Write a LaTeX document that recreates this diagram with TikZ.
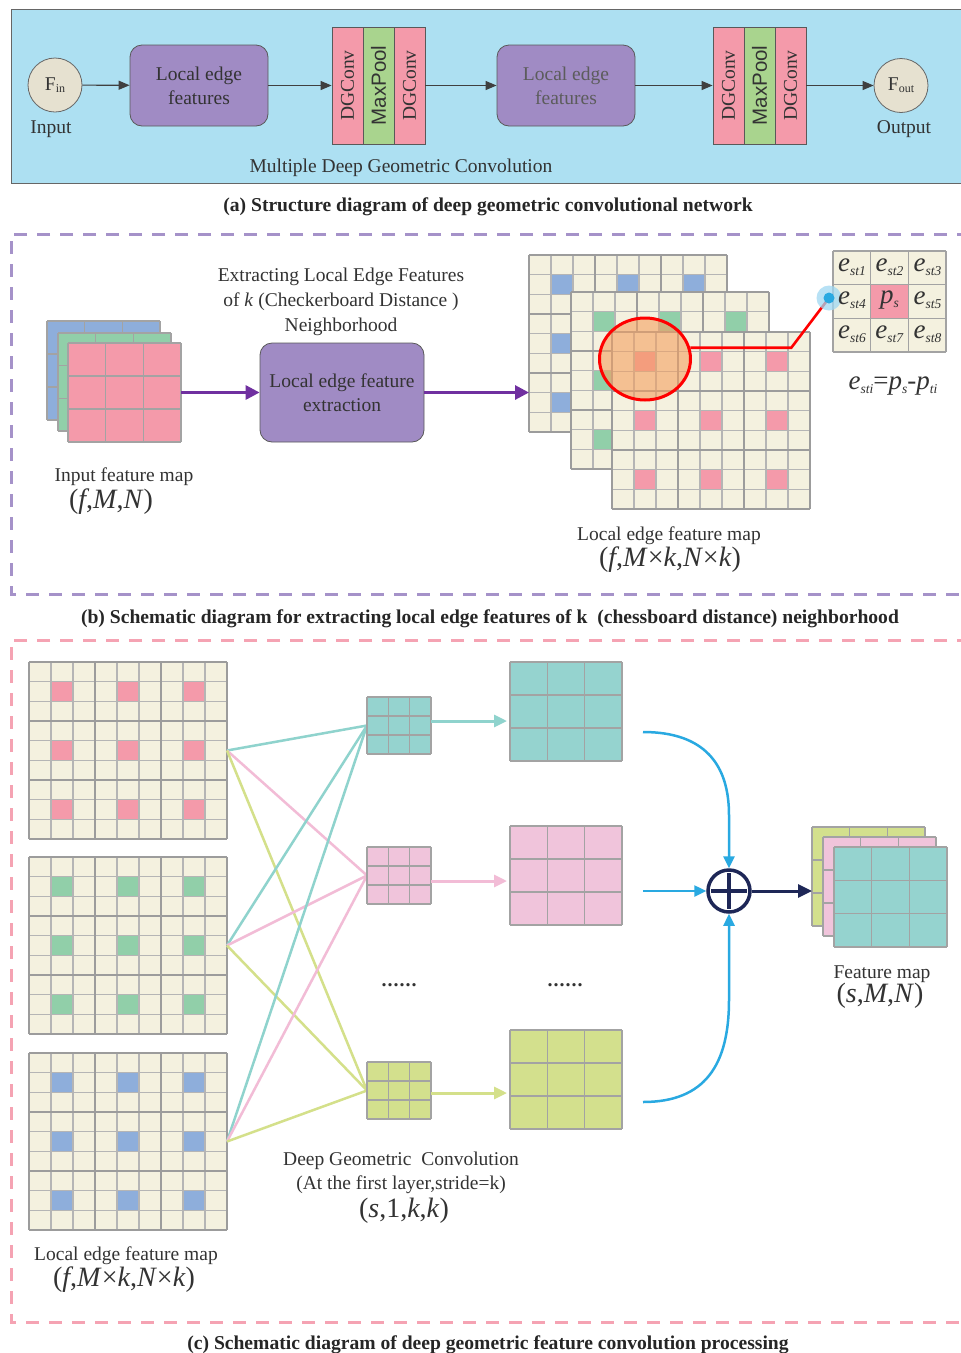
\documentclass[tikz,border=0pt]{standalone}
\usepackage{fontspec}
\setmainfont{Liberation Serif}
\newfontfamily\sansf{Liberation Sans}
\usetikzlibrary{arrows.meta,calc,shapes.geometric}
\definecolor{skyb}{HTML}{ADE0F2}
\definecolor{boxpur}{HTML}{A08BC4}
\definecolor{beigec}{HTML}{E6E1D0}
\definecolor{pinkc}{HTML}{F49AAA}
\definecolor{mpgreen}{HTML}{A9D48E}
\definecolor{cellbg}{HTML}{F4F1DF}
\definecolor{bluec}{HTML}{8EAEDB}
\definecolor{greenc}{HTML}{91CFA9}
\definecolor{tealc}{HTML}{95D3CF}
\definecolor{lpinkc}{HTML}{F0C4DB}
\definecolor{ygreen}{HTML}{D3E08D}
\definecolor{cblue}{HTML}{29A9E1}
\definecolor{navy}{HTML}{1E2757}
\definecolor{parrow}{HTML}{7030A0}
\definecolor{dpur}{HTML}{A592C9}
\definecolor{dpink}{HTML}{F5A3B3}
\definecolor{tgray}{HTML}{333333}
\definecolor{gridgray}{HTML}{A3A3A3}
\definecolor{thickgray}{HTML}{9C9C9C}
\definecolor{peach}{HTML}{F4A060}
\definecolor{ltline}{HTML}{8FD3CD}
\definecolor{lpline}{HTML}{F2BCD6}
\definecolor{lgline}{HTML}{D4E08A}
\newcommand{\sbx}[1]{\raisebox{-4pt}{\fontsize{13.5}{14}\selectfont\textit{#1}}}
\newcommand{\ee}[1]{\textit{e}\sbx{#1}}
\tikzset{
  txt/.style={font=\fontsize{19.5}{24}\selectfont, text=tgray, inner sep=0, yshift=-2pt},
  captxt/.style={font=\bfseries\fontsize{19.6}{23}\selectfont, text=black!85, inner sep=0, yshift=-1.5pt},
  bigit/.style={font=\fontsize{28}{32}\selectfont, text=tgray, inner sep=0},
  gridln/.style={draw=gridgray, line width=1.1pt},
  thinln/.style={draw=gridgray!80, line width=1.3pt},
  thickln/.style={draw=thickgray, line width=2.8pt},
  lefbox/.style={rounded corners=12pt, fill=boxpur, draw=gray!70!black, line width=0.8pt, align=center, txt, yshift=2pt},
  stackcol/.style={rotate=90, minimum width=117pt, minimum height=31pt, inner sep=0, draw=gray!70!black, line width=0.8pt, txt, yshift=2pt},
  endcirc/.style={circle, fill=beigec, draw=gray!80!black, line width=0.8pt, minimum size=54pt, inner sep=0, txt, yshift=2pt},
  aarrow/.style={draw=black!75, line width=1.2pt, -{Triangle[length=11pt,width=9pt]}},
  parr/.style={draw=parrow, line width=3pt, -{Triangle[length=14pt,width=14pt]}},
  karr/.style={line width=3pt, -{Triangle[length=13pt,width=12pt]}, shorten >=3pt},
  barr/.style={draw=cblue, line width=2.5pt, -{Triangle[length=12pt,width=11pt]}},
  cline/.style={line width=2.5pt},
  ecell/.style={font=\fontsize{27}{30}\selectfont, text=tgray, inner sep=0},
}
\newcommand{\gridnode}[8]{%
  \node[anchor=north west, inner sep=0, outer sep=0, minimum width=#4pt, minimum height=#5pt, fill=#8] (#1) at (#2,#3) {};
  \foreach \k in {0,...,#6}{\draw[gridln] (#2+\k*#4/#6,#3) -- ++(0,#5);}
  \foreach \k in {0,...,#7}{\draw[gridln] (#2,#3+\k*#5/#7) -- ++(#4,0);}
}
\newcommand{\edgemap}[4]{%
  \node[anchor=north west, inner sep=0, outer sep=0, minimum width=198pt, minimum height=177pt, fill=cellbg] (#1) at (#2,#3) {};
  \foreach \i in {1,4,7}{\foreach \j in {1,4,7}{\fill[#4] (#2+\i*22,#3+\j*19.667) rectangle ++(22,19.667);}}
  \foreach \k in {1,2,4,5,7,8}{\draw[thinln] (#2+\k*22,#3) -- ++(0,177); \draw[thinln] (#2,#3+\k*19.667) -- ++(198,0);}
  \foreach \k in {0,3,6,9}{\draw[thickln] (#2+\k*22,#3) -- ++(0,177); \draw[thickln] (#2,#3+\k*19.667) -- ++(198,0);}
}
\begin{document}
\begin{tikzpicture}[x=1pt,y=-1pt]
\useasboundingbox (0,0) rectangle (961,1353);
\fill[white] (0,0) rectangle (961,1353);
% ---------------- (a)
\filldraw[fill=skyb, draw=gray!80!black, line width=1pt] (11,9) rectangle (970,183);
\node[endcirc] (fin) at (55,85) {F\raisebox{-2pt}{\fontsize{12}{12}\selectfont in}};
\node[txt] (inlab) at (51,127) {Input};
\node[lefbox, minimum width=138pt, minimum height=81pt] (leb1) at (199,85.5) {Local edge\\features};
\node[stackcol, fill=pinkc] (dg1a) at (347.5,85.5) {DGConv};
\node[stackcol, fill=mpgreen, font=\sansf\fontsize{20.5}{24}\selectfont] (dg1b) at (378.5,85.5) {MaxPool};
\node[stackcol, fill=pinkc] (dg1c) at (409.5,85.5) {DGConv};
\node[lefbox, minimum width=138pt, minimum height=81pt, text=tgray!80] (leb2) at (566,85.5) {Local edge\\features};
\node[stackcol, fill=pinkc] (dg2a) at (728.5,85.5) {DGConv};
\node[stackcol, fill=mpgreen, font=\sansf\fontsize{20.5}{24}\selectfont] (dg2b) at (759.5,85.5) {MaxPool};
\node[stackcol, fill=pinkc] (dg2c) at (790.5,85.5) {DGConv};
\node[endcirc] (fout) at (901,85.5) {F\raisebox{-2pt}{\fontsize{12}{12}\selectfont out}};
\node[txt] (outlab) at (904,127) {Output};
\draw[aarrow] (fin) -- (leb1);
\draw[aarrow] (leb1) -- (dg1a);
\draw[aarrow] (dg1c) -- (leb2);
\draw[aarrow] (leb2) -- (dg2a);
\draw[aarrow] (dg2c) -- (fout);
\node[txt] (mdgc) at (401,166) {Multiple Deep Geometric Convolution};
\node[captxt] (capa) at (488,205) {(a) Structure diagram of deep geometric convolutional network};
% ---------------- (b)
\draw[dpur, line width=3pt, dash pattern=on 13pt off 10pt] (970,234) -- (11,234) -- (11,594) -- (970,594);
\gridnode{inb}{47}{321}{113}{99}{3}{3}{bluec}
\gridnode{ing}{58}{333}{113}{98}{3}{3}{greenc}
\gridnode{inp}{68}{343}{113}{99}{3}{3}{pinkc}
\node[txt, align=center, font=\fontsize{19.5}{25}\selectfont] (extxt) at (341,300) {Extracting Local Edge Features\\of \textit{k} (Checkerboard Distance )\\Neighborhood};
\node[lefbox, minimum width=164pt, minimum height=99pt] (lex) at (342,392.5) {Local edge feature\\extraction};
\node[txt] (inl) at (124,475) {Input feature map};
\node[bigit] (infmn) at (111,502) {(\textit{f},\textit{M},\textit{N})};
\edgemap{em1}{529}{255}{bluec}
\edgemap{em2}{571}{292}{greenc}
\edgemap{em3}{612}{332}{pinkc}
\draw[parr] (inp.east) -- (lex.west);
\draw[parr] (lex.east) -- (lex.east -| em1.west);
\node[ellipse, draw=red, line width=3pt, fill=peach, fill opacity=0.6, minimum width=91pt, minimum height=82pt, inner sep=0] (rc) at (645,359) {};
\coordinate (bd) at (829,298);
\draw[red, line width=2.6pt] (rc.14) -- ++(101,0) -- (bd);
\gridnode{eg}{833}{251}{113}{101}{3}{3}{cellbg}
\filldraw[fill=pinkc, draw=gridgray, line width=1.1pt] (870.67,284.67) rectangle ++(37.67,33.67);
\node[circle, fill=cblue!45, fill opacity=0.75, minimum size=25pt, inner sep=0] (bdg) at (bd) {};
\node[circle, fill=cblue, minimum size=11pt, inner sep=0] (bdc) at (bd) {};
\node[ecell] (e1) at (852,267) {\ee{st1}};
\node[ecell] (e2) at (889.5,267) {\ee{st2}};
\node[ecell] (e3) at (927.5,267) {\ee{st3}};
\node[ecell] (e4) at (852,300.5) {\ee{st4}};
\node[ecell] (ps) at (889.5,300.5) {\textit{p}\sbx{s}};
\node[ecell] (e5) at (927.5,300.5) {\ee{st5}};
\node[ecell] (e6) at (852,334) {\ee{st6}};
\node[ecell] (e7) at (889.5,334) {\ee{st7}};
\node[ecell] (e8) at (927.5,334) {\ee{st8}};
\node[ecell] (eq) at (893,386) {\ee{sti}=\textit{p}\sbx{s}-\textit{p}\sbx{ti}};
\node[txt] (lefm) at (669,534) {Local edge feature map};
\node[bigit] (lefmd) at (670,560) {(\textit{f},\textit{M}×\textit{k},\textit{N}×\textit{k})};
\node[captxt] (capb) at (490,617) {(b) Schematic diagram for extracting local edge features of k~ (chessboard distance) neighborhood};
% ---------------- (c)
\draw[dpink, line width=3pt, dash pattern=on 13pt off 10pt] (970,640) -- (11,640) -- (11,1322) -- (970,1322);
\edgemap{lm1}{29}{662}{pinkc}
\edgemap{lm2}{29}{857}{greenc}
\edgemap{lm3}{29}{1053}{bluec}
\foreach \o in {lm1,lm2,lm3}{
  \draw[cline, ltline] (\o.east) -- (367,725.5);
  \draw[cline, lpline] (\o.east) -- (367,875.5);
  \draw[cline, lgline] (\o.east) -- (367,1090.5);
}
\gridnode{kt}{367}{697}{64}{57}{3}{3}{tealc}
\gridnode{kp}{367}{847}{64}{57}{3}{3}{lpinkc}
\gridnode{kg}{367}{1062}{64}{57}{3}{3}{ygreen}
\gridnode{bt}{510}{662}{112}{99}{3}{3}{tealc}
\gridnode{bp}{510}{826}{112}{99}{3}{3}{lpinkc}
\gridnode{bg}{510}{1030}{112}{99}{3}{3}{ygreen}
\draw[karr, ltline] (431,721) -- (bt.west |- 0,721);
\draw[karr, lpline] (431,881) -- (bp.west |- 0,881);
\draw[karr, lgline] (431,1093) -- (bg.west |- 0,1093);
\node[txt, font=\bfseries\fontsize{20}{24}\selectfont] (dots1) at (399,983) {.\hspace{1pt}.\hspace{1pt}.\hspace{1pt}.\hspace{1pt}.\hspace{1pt}.};
\node[txt, font=\bfseries\fontsize{20}{24}\selectfont] (dots2) at (565,983) {.\hspace{1pt}.\hspace{1pt}.\hspace{1pt}.\hspace{1pt}.\hspace{1pt}.};
\node[circle, draw=navy, line width=3.5pt, minimum size=42pt, inner sep=0, fill=white] (plus) at (729,891) {};
\draw[navy, line width=3.5pt] ($(plus.center)+(-18,0)$) -- ($(plus.center)+(18,0)$);
\draw[navy, line width=3.5pt] ($(plus.center)+(0,-18)$) -- ($(plus.center)+(0,18)$);
\coordinate (c1) at (643,732);
\coordinate (c2) at (643,891);
\coordinate (c3) at (643,1102);
\draw[barr] (c1) .. controls (705,732) and (729,765) .. (729,815) -- (plus.north);
\draw[barr] (c2) -- (plus.west);
\draw[barr] (c3) .. controls (705,1102) and (729,1065) .. (729,1000) -- (plus.south);
\gridnode{fmg}{812}{827}{113}{99}{3}{3}{ygreen}
\gridnode{fmp}{823}{837}{113}{99}{3}{3}{lpinkc}
\gridnode{fmt}{834}{847}{113}{100}{3}{3}{tealc}
\draw[navy, line width=3pt, -{Triangle[length=14pt,width=13pt]}] (plus.east) -- (fmg.west |- plus.east);
\node[txt] (fml) at (882,972) {Feature map};
\node[bigit] (fmd) at (880,996) {(\textit{s},\textit{M},\textit{N})};
\node[txt, align=center] (dgcl) at (401,1171) {Deep Geometric~ Convolution\\(At the first layer,stride=k)};
\node[bigit] (dgcd) at (404,1211) {(\textit{s},1,\textit{k},\textit{k})};
\node[txt] (lefm2) at (126,1254) {Local edge feature map};
\node[bigit] (lefm2d) at (124,1280) {(\textit{f},\textit{M}×\textit{k},\textit{N}×\textit{k})};
\node[captxt] (capc) at (488,1343) {(c) Schematic diagram of deep geometric feature convolution processing};
\end{tikzpicture}
\end{document}
